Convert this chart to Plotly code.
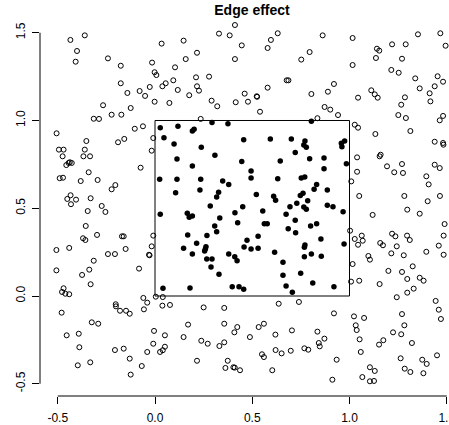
import plotly.graph_objects as go

# Points falling outside the unit square (drawn as open circles)
outside_x = [
    -0.435, -0.361, -0.401, -0.408, -0.242, -0.176, -0.176, -0.142, -0.079, -0.267, -0.315, -0.288,
    -0.223, -0.173, -0.125, -0.104, -0.062, -0.506, -0.353, -0.190, -0.158,
    0.034, 0.147, 0.329, 0.384, 0.446, 0.411, 0.216, 0.158, 0.411, -0.015, 0.103, -0.002, 0.007,
    0.094, 0.211, 0.278, -0.027, 0.038, 0.055, 0.117, 0.216, 0.226, 0.176, -0.051, -0.002, 0.074,
    0.291, 0.320, 0.415, 0.235, -0.009,
    0.631, 0.596, 0.579, 0.862, 0.795, 0.752, 0.677, 0.686, 0.579, 0.461, 0.478, 0.523, 0.525,
    0.540, 0.804, 0.889, 0.920, 0.872, 0.901, 0.941, 0.835,
    1.016, 1.352, 1.467, 1.494, 1.219, 1.289, 1.141, 1.153, 1.136, 1.270, 1.016, 1.215, 1.253,
    1.338, 1.453, 1.481, 1.361, 1.438, 1.412, 1.416, 1.112, 1.130, 1.145, 1.044, 1.285, 1.266,
    1.251, 1.290, 1.481, 1.464, 1.027, 1.044, 1.133, 1.313, 1.438, 1.481, 1.483,
    -0.494, -0.470, -0.361, -0.475, -0.368, -0.334, -0.456, -0.444, -0.438, -0.428, -0.341, -0.074,
    -0.490, -0.473, -0.382, -0.295, -0.204, -0.223, -0.451, -0.434, -0.406, -0.432, -0.331, -0.274,
    -0.255, -0.346, -0.356, -0.370, -0.358, -0.298, -0.170, -0.161, -0.507, -0.441, -0.242, -0.206,
    -0.151, -0.315, -0.507, -0.338, -0.082, -0.375,
    -0.017, -0.009, -0.017, -0.031, -0.028,
    1.039, 1.155, 1.160, 1.193, 1.270, 1.230, 1.275, 1.438, 1.464, 1.039, 1.395, 1.407, 1.009,
    1.050, 1.282, 1.465, 1.402, 1.297, 1.361, 1.119, 1.489, 1.003, 1.027, 1.044, 1.063, 1.068,
    1.158, 1.172, 1.219, 1.236, 1.243, 1.296, 1.310, 1.484, 1.459, 1.395, 1.484, 1.215, 1.279,
    1.097, 1.105, 1.016, 1.200, 1.270, 1.325,
    -0.331, -0.470, -0.478, -0.461, -0.441, -0.480, -0.202, -0.201, -0.180, -0.149, -0.130, -0.325,
    -0.292, -0.454, -0.392, -0.389, -0.206, -0.161, -0.130, -0.397, -0.333, -0.125, -0.068, -0.060,
    -0.040, -0.057,
    0.004, 0.040, 0.038, 0.077, 0.250, 0.356, 0.170, 0.356, 0.423, 0.408, -0.005, 0.051, 0.147,
    0.238, 0.271, 0.331, 0.356, -0.009, 0.051, 0.040, 0.026, -0.040, 0.216, 0.374, 0.362, 0.403,
    0.410, 0.437,
    0.636, 0.740, 0.920, 0.533, 0.560, 0.488, 0.619, 0.704, 0.835, 0.871, 0.842, 0.847, 0.620,
    0.651, 0.698, 0.768, 0.788, 0.550, 0.560, 0.934, 0.603, 0.912,
    1.008, 1.050, 1.155, 1.297, 1.361, 1.381, 1.297, 1.330, 1.243, 1.443, 1.459, 1.470, 1.270,
    1.023, 1.075, 1.032, 1.037, 1.282, 1.224, 1.266, 1.052, 1.152, 1.174, 1.321, 1.058, 1.450,
    1.263, 1.374, 1.397, 1.105, 1.130, 1.284, 1.313, 1.380, 1.066, 1.105, 1.126,
]
outside_y = [
    1.459, 1.485, 1.396, 1.335, 1.354, 1.312, 1.212, 1.157, 1.168, 1.087, 1.010, 1.009,
    1.033, 1.033, 1.071, 0.953, 0.967, 0.927, 0.883, 0.876, 0.895,
    1.438, 1.455, 1.495, 1.485, 1.428, 1.544, 1.386, 1.350, 1.350, 1.330, 1.303, 1.275, 1.259,
    1.229, 1.246, 1.250, 1.191, 1.195, 1.212, 1.174, 1.195, 1.170, 1.144, 1.140, 1.107, 1.100,
    1.113, 1.081, 1.104, 1.009, 0.900,
    1.497, 1.459, 1.413, 1.485, 1.390, 1.347, 1.229, 1.229, 1.187, 1.153, 1.107, 1.138, 1.135,
    1.050, 1.151, 1.164, 1.208, 1.077, 1.062, 1.031, 1.013,
    1.470, 1.491, 1.497, 1.426, 1.434, 1.434, 1.409, 1.398, 1.356, 1.352, 1.316, 1.288, 1.272,
    1.240, 1.252, 1.221, 1.183, 1.195, 1.155, 1.109, 1.172, 1.149, 1.130, 1.130, 1.132, 1.090,
    1.031, 1.014, 1.026, 1.001, 0.976, 0.959, 0.923, 0.940, 0.879, 0.872, 0.862,
    0.834, 0.834, 0.834, 0.796, 0.796, 0.796, 0.746, 0.758, 0.762, 0.758, 0.705, 0.731,
    0.671, 0.674, 0.655, 0.661, 0.632, 0.608, 0.553, 0.574, 0.549, 0.523, 0.557, 0.513,
    0.479, 0.484, 0.399, 0.329, 0.319, 0.348, 0.340, 0.340, 0.262, 0.274, 0.239, 0.239,
    0.268, 0.201, 0.146, 0.150, 0.156, 0.120,
    0.828, 0.344, 0.283, 0.235, 0.232,
    0.790, 0.796, 0.805, 0.739, 0.752, 0.705, 0.701, 0.748, 0.729, 0.708, 0.682, 0.636, 0.653,
    0.570, 0.570, 0.570, 0.540, 0.492, 0.469, 0.462, 0.410, 0.372, 0.325, 0.292, 0.344, 0.315,
    0.302, 0.289, 0.355, 0.340, 0.283, 0.344, 0.319, 0.344, 0.287, 0.252, 0.235, 0.243, 0.232,
    0.228, 0.207, 0.182, 0.143, 0.137, 0.169,
    0.067, 0.044, 0.023, 0.013, 0.010, -0.095, -0.047, -0.059, -0.084, -0.084, -0.101, -0.150,
    -0.158, -0.224, -0.215, -0.292, -0.308, -0.300, -0.357, -0.395, -0.378, -0.448, -0.399, -0.011,
    -0.038, -0.076,
    -0.004, -0.006, -0.055, -0.051, -0.065, -0.068, -0.163, -0.158, -0.177, -0.207, -0.199, -0.224, -0.234,
    -0.255, -0.272, -0.285, -0.264, -0.272, -0.289, -0.309, -0.319, -0.319, -0.369, -0.369, -0.410, -0.406,
    -0.408, -0.423,
    -0.044, -0.034, -0.099, -0.177, -0.158, -0.234, -0.220, -0.196, -0.203, -0.243, -0.268, -0.287, -0.308,
    -0.327, -0.312, -0.298, -0.306, -0.332, -0.348, -0.363, -0.423, -0.477,
    0.082, 0.087, 0.068, 0.097, 0.104, 0.087, 0.019, 0.042, -0.007, -0.028, -0.078, -0.131, -0.103,
    -0.116, -0.125, -0.167, -0.194, -0.167, -0.207, -0.218, -0.247, -0.277, -0.252, -0.268, -0.319, -0.338,
    -0.355, -0.363, -0.387, -0.406, -0.427, -0.414, -0.433, -0.440, -0.462, -0.486, -0.484,
]

# Points falling inside the unit square (drawn as filled dots)
inside_x = [
    0.027, 0.118, 0.192, 0.201, 0.293, 0.375, 0.046, 0.098, 0.238, 0.456,
    0.804, 0.593, 0.701, 0.771, 0.765, 0.778, 0.958, 0.975, 0.961,
    0.308, 0.113, 0.192, 0.446, 0.024, 0.113, 0.235, 0.348, 0.379, 0.106, 0.231, 0.327, 0.317,
    0.284, 0.451, 0.027, 0.166, 0.176, 0.192, 0.333, 0.411, 0.425, 0.307, 0.317, 0.168, 0.267,
    0.214, 0.147, 0.262, 0.259, 0.255, 0.192, 0.379, 0.410, 0.422, 0.458, 0.266, 0.293, 0.288,
    0.721, 0.644, 0.795, 0.869, 0.984, 0.494, 0.494, 0.631, 0.752, 0.770, 0.869, 0.831, 0.818,
    0.886, 0.521, 0.610, 0.620, 0.747, 0.761, 0.785, 0.729, 0.694, 0.765, 0.778, 0.886, 0.915,
    0.967, 0.554, 0.674, 0.562, 0.577, 0.721, 0.685, 0.723, 0.800, 0.831, 0.530, 0.473, 0.494,
    0.530, 0.853, 0.972, 0.771, 0.768, 0.615, 0.768, 0.804, 0.855, 0.658,
    0.329, 0.041, 0.180, 0.397, 0.432, 0.456,
    0.658, 0.749, 0.674, 0.706, 0.811, 0.920,
]
inside_y = [
    0.959, 0.967, 0.940, 0.950, 0.988, 0.982, 0.902, 0.866, 0.847, 0.890,
    0.995, 0.895, 0.895, 0.883, 0.860, 0.847, 0.870, 0.883, 0.851,
    0.802, 0.781, 0.741, 0.767, 0.665, 0.665, 0.665, 0.655, 0.636, 0.589, 0.604, 0.591, 0.564,
    0.513, 0.509, 0.466, 0.471, 0.448, 0.456, 0.444, 0.475, 0.418, 0.399, 0.366, 0.348, 0.344,
    0.300, 0.272, 0.281, 0.268, 0.256, 0.239, 0.239, 0.224, 0.201, 0.279, 0.211, 0.211, 0.165,
    0.817, 0.769, 0.782, 0.786, 0.754, 0.712, 0.672, 0.668, 0.672, 0.678, 0.725, 0.636, 0.608,
    0.604, 0.579, 0.568, 0.545, 0.572, 0.585, 0.543, 0.528, 0.509, 0.507, 0.494, 0.517, 0.509,
    0.480, 0.484, 0.466, 0.412, 0.412, 0.431, 0.383, 0.361, 0.399, 0.412, 0.340, 0.317, 0.268,
    0.272, 0.325, 0.296, 0.291, 0.278, 0.249, 0.224, 0.239, 0.226, 0.192,
    0.124, 0.044, 0.046, 0.053, 0.053, 0.038,
    0.118, 0.129, 0.057, 0.021, 0.074, 0.053,
]

tick_vals = [-0.5, 0.0, 0.5, 1.0, 1.5]
tick_text = ["-0.5", "0.0", "0.5", "1.0", "1.5"]

fig = go.Figure()
fig.add_trace(go.Scatter(
    x=outside_x, y=outside_y, mode="markers",
    marker=dict(symbol="circle-open", size=5, color="black", line=dict(width=1)),
    showlegend=False, hoverinfo="skip",
))
fig.add_trace(go.Scatter(
    x=inside_x, y=inside_y, mode="markers",
    marker=dict(symbol="circle", size=5.5, color="black"),
    showlegend=False, hoverinfo="skip",
))

# unit square
fig.add_shape(type="rect", xref="x", yref="y", x0=0, y0=0, x1=1, y1=1,
              line=dict(color="black", width=1))
# axis lines spanning first to last tick
fig.add_shape(type="line", xref="paper", yref="y", x0=0, x1=0, y0=-0.5, y1=1.5,
              line=dict(color="black", width=1))
fig.add_shape(type="line", xref="x", yref="paper", x0=-0.5, x1=1.5, y0=0, y1=0,
              line=dict(color="black", width=1))

axis_font = dict(family="Liberation Sans, Arial, sans-serif", size=12, color="black")

fig.update_layout(
    width=449, height=425,
    margin=dict(l=40, r=0, t=20, b=29, autoexpand=False),
    paper_bgcolor="white", plot_bgcolor="white",
    title=dict(text="<b>Edge effect</b>", xref="container", yref="container",
               x=252 / 449, y=1 - 10 / 425, xanchor="center", yanchor="middle",
               font=dict(family="Liberation Sans, Arial, sans-serif", size=14, color="black")),
    xaxis=dict(range=[-0.5913, 1.5116], tickvals=tick_vals, ticktext=tick_text,
               ticks="outside", ticklen=7, tickcolor="black", tickwidth=1,
               ticklabelstandoff=4, ticklabeloverflow="allow", automargin=False,
               showgrid=False, zeroline=False, showline=False, tickfont=axis_font),
    yaxis=dict(range=[-0.5698, 1.5726], tickvals=tick_vals, ticktext=tick_text,
               ticks="outside", ticklen=7, tickcolor="black", tickwidth=1, tickangle=-90,
               ticklabelstandoff=2, ticklabeloverflow="allow", automargin=False,
               showgrid=False, zeroline=False, showline=False, tickfont=axis_font),
)

fig.write_html("out.html")
